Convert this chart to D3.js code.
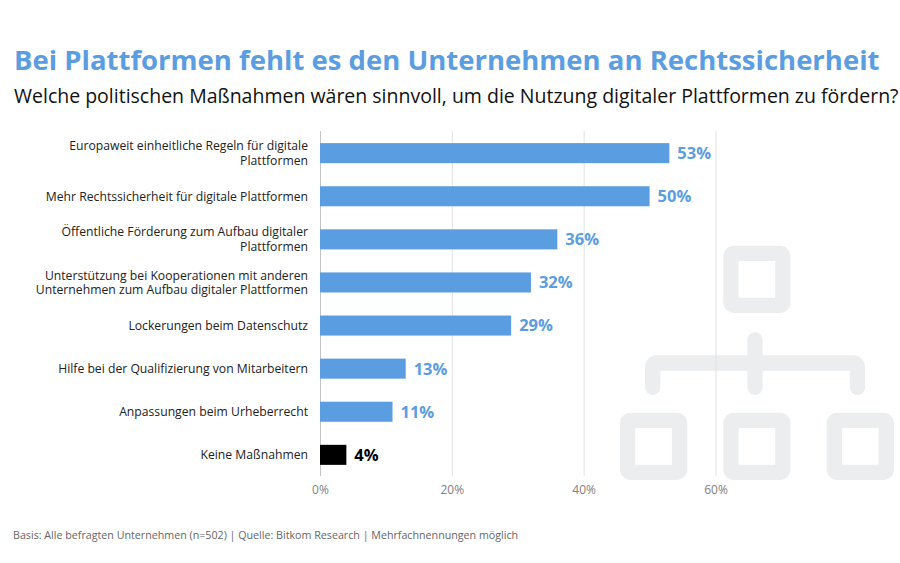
<!DOCTYPE html>
<html>
<head>
<meta charset="utf-8">
<script src="https://cdn.jsdelivr.net/npm/d3@7"></script>
<style>
  html, body { margin: 0; padding: 0; background: #fff; }
  text { font-family: "Open Sans", sans-serif; }
</style>
</head>
<body>
<div id="chart"></div>
<script>
const categories = [
  ["Europaweit einheitliche Regeln für digitale", "Plattformen"],
  ["Mehr Rechtssicherheit für digitale Plattformen"],
  ["Öffentliche Förderung zum Aufbau digitaler", "Plattformen"],
  ["Unterstützung bei Kooperationen mit anderen", "Unternehmen zum Aufbau digitaler Plattformen"],
  ["Lockerungen beim Datenschutz"],
  ["Hilfe bei der Qualifizierung von Mitarbeitern"],
  ["Anpassungen beim Urheberrecht"],
  ["Keine Maßnahmen"]
];
const values = [53, 50, 36, 32, 29, 13, 11, 4];
const ticks = [0, 20, 40, 60];

const blue = "#5a9de0";
const iconGrey = "#ecedef";

const svg = d3.select("#chart").append("svg")
  .attr("width", 900)
  .attr("height", 563)
  .style("display", "block");

// background icon
const icon = svg.append("g").attr("fill", iconGrey);
function box(x, y) {
  icon.append("rect")
    .attr("x", x + 7.6).attr("y", y + 7.6)
    .attr("width", 52).attr("height", 52)
    .attr("rx", 3)
    .attr("fill", "none")
    .attr("stroke", iconGrey)
    .attr("stroke-width", 15.3);
}
box(723.3, 245.7);
box(620, 412.7);
box(723.3, 412.7);
box(826.7, 412.7);
icon.append("path")
  .attr("d", "M652.7 387.4V367a4 4 0 0 1 4-4H853.4a4 4 0 0 1 4 4V387.4M755 340V387.4")
  .attr("fill", "none")
  .attr("stroke", iconGrey)
  .attr("stroke-width", 15.3)
  .attr("stroke-linecap", "round");

// titles
svg.append("text")
  .attr("x", 14).attr("y", 70)
  .attr("fill", blue)
  .style("font-size", "27.5px")
  .style("font-weight", 700)
  .text("Bei Plattformen fehlt es den Unternehmen an Rechtssicherheit");

svg.append("text")
  .attr("x", 14).attr("y", 103)
  .attr("fill", "#111")
  .style("font-size", "19.5px")
  .text("Welche politischen Maßnahmen wären sinnvoll, um die Nutzung digitaler Plattformen zu fördern?");

// scales
const x = d3.scaleLinear().domain([0, 60]).range([320, 715.5]);
const y = d3.scaleBand()
  .domain(d3.range(values.length))
  .range([131.5, 476.5])
  .paddingInner(0.535)
  .paddingOuter(0.27);

// grid + axis
const xAxis = d3.axisBottom(x)
  .tickValues(ticks)
  .tickFormat(d => d + "%")
  .tickSize(345)
  .tickPadding(9);

const axisG = svg.append("g")
  .attr("transform", "translate(0,131)")
  .call(xAxis);
axisG.select(".domain").remove();
axisG.selectAll("line")
  .attr("stroke", d => d === 0 ? "#c4c4c4" : "#e2e2e2")
  .attr("stroke-width", 1);
axisG.selectAll("text")
  .attr("fill", "#808080")
  .style("font-size", "12px");

// bars
svg.append("g").selectAll("rect")
  .data(values)
  .join("rect")
  .attr("x", x(0))
  .attr("y", (d, i) => y(i))
  .attr("width", d => x(d) - x(0))
  .attr("height", y.bandwidth())
  .attr("fill", (d, i) => i === values.length - 1 ? "#000" : blue);

// value labels
svg.append("g").selectAll("text")
  .data(values)
  .join("text")
  .attr("x", d => x(d) + 8)
  .attr("y", (d, i) => y(i) + y.bandwidth() / 2)
  .attr("dy", "0.36em")
  .attr("fill", (d, i) => i === values.length - 1 ? "#000" : blue)
  .style("font-size", "16.5px")
  .style("font-weight", 700)
  .text(d => d + "%");

// category labels
const lab = svg.append("g").selectAll("text")
  .data(categories)
  .join("text")
  .attr("text-anchor", "end")
  .attr("fill", "#222")
  .style("font-size", "12.2px");
lab.each(function(lines, i) {
  const mid = y(i) + y.bandwidth() / 2;
  d3.select(this).selectAll("tspan")
    .data(lines)
    .join("tspan")
    .attr("x", 308)
    .attr("y", (d, k) => mid + 4.3 + (k - (lines.length - 1) / 2) * 14.5)
    .text(d => d);
});

// footer
svg.append("text")
  .attr("x", 13).attr("y", 539)
  .attr("fill", "#666")
  .style("font-size", "10.7px")
  .text("Basis: Alle befragten Unternehmen (n=502) | Quelle: Bitkom Research | Mehrfachnennungen möglich");
</script>
</body>
</html>
